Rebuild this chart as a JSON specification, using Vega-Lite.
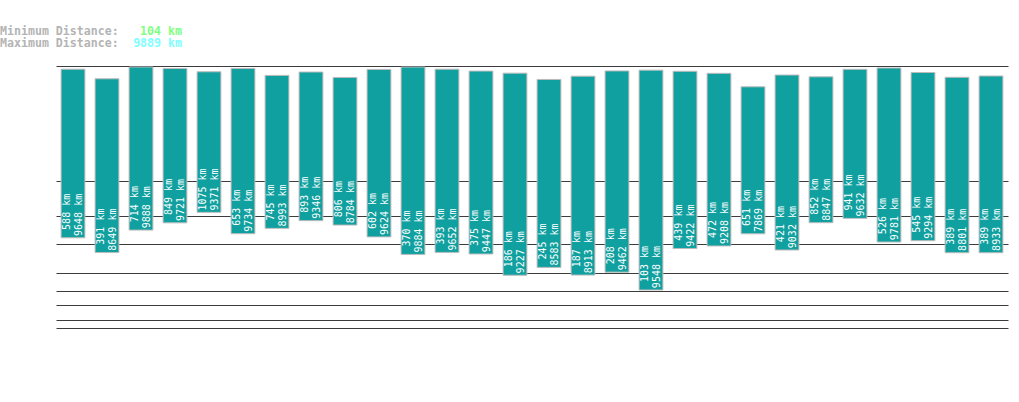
{
  "$schema": "https://vega.github.io/schema/vega-lite/v6.json",
  "background": "white",
  "padding": {"left": 0, "top": 26, "right": 5, "bottom": 5},
  "spacing": 16,
  "columns": 1,
  "config": {"view": {"stroke": null}},
  "datasets": {
    "header": [
      {"line": 1, "label": "Minimum Distance:", "value": "104 km", "kind": "min"},
      {"line": 2, "label": "Maximum Distance:", "value": "9889 km", "kind": "max"}
    ],
    "bars": [
      {"i": 1, "min": 588, "max": 9648},
      {"i": 2, "min": 391, "max": 8649},
      {"i": 3, "min": 714, "max": 9888},
      {"i": 4, "min": 849, "max": 9721},
      {"i": 5, "min": 1075, "max": 9371},
      {"i": 6, "min": 653, "max": 9734},
      {"i": 7, "min": 745, "max": 8993},
      {"i": 8, "min": 893, "max": 9346},
      {"i": 9, "min": 806, "max": 8784},
      {"i": 10, "min": 602, "max": 9624},
      {"i": 11, "min": 370, "max": 9884},
      {"i": 12, "min": 393, "max": 9652},
      {"i": 13, "min": 375, "max": 9447},
      {"i": 14, "min": 186, "max": 9227},
      {"i": 15, "min": 245, "max": 8583},
      {"i": 16, "min": 187, "max": 8913},
      {"i": 17, "min": 208, "max": 9462},
      {"i": 18, "min": 103, "max": 9548},
      {"i": 19, "min": 439, "max": 9422},
      {"i": 20, "min": 472, "max": 9208},
      {"i": 21, "min": 651, "max": 7869},
      {"i": 22, "min": 421, "max": 9032},
      {"i": 23, "min": 852, "max": 8847},
      {"i": 24, "min": 941, "max": 9632},
      {"i": 25, "min": 526, "max": 9781},
      {"i": 26, "min": 545, "max": 9294},
      {"i": 27, "min": 389, "max": 8801},
      {"i": 28, "min": 389, "max": 8933}
    ]
  },
  "concat": [
    {
      "data": {"name": "header"},
      "width": 126,
      "height": 12,
      "layer": [
        {
          "mark": {"type": "text", "align": "left", "baseline": "top", "font": "DejaVu Sans Mono", "fontSize": 11.6, "fontWeight": "bold", "color": "#b4b4b4"},
          "encoding": {
            "x": {"datum": 0, "type": "quantitative", "scale": {"domain": [0, 1], "range": [-56, 126]}, "axis": null},
            "y": {"field": "line", "type": "ordinal", "scale": {"type": "point", "padding": 0}, "axis": null},
            "text": {"field": "label"}
          }
        },
        {
          "mark": {"type": "text", "align": "right", "baseline": "top", "font": "DejaVu Sans Mono", "fontSize": 11.6, "fontWeight": "bold"},
          "encoding": {
            "x": {"datum": 1, "type": "quantitative", "scale": {"domain": [0, 1], "range": [-56, 126]}, "axis": null},
            "y": {"field": "line", "type": "ordinal", "scale": {"type": "point", "padding": 0}, "axis": null},
            "text": {"field": "value"},
            "color": {"field": "kind", "type": "nominal", "scale": {"domain": ["min", "max"], "range": ["#80ff80", "#80ffff"]}, "legend": null}
          }
        }
      ]
    },
    {
      "data": {"name": "bars"},
      "width": 952,
      "height": 300,
      "encoding": {
        "x": {"field": "i", "type": "ordinal", "scale": {"paddingInner": 0.3, "paddingOuter": 0.15}, "axis": null}
      },
      "layer": [
        {
          "mark": {"type": "bar", "fill": "#11a0a0", "stroke": "#bcbcbc", "strokeWidth": 1},
          "encoding": {
            "y": {"field": "max", "type": "quantitative",
              "scale": {"type": "pow", "exponent": 0.3, "domain": [0, 10000], "nice": false},
              "axis": {"values": [10, 20, 50, 100, 200, 500, 1000, 2000, 10000], "tickCount": 50, "labels": false, "ticks": false, "domain": false, "title": null, "grid": true, "gridColor": "#3c3c3c", "gridOpacity": 1, "minExtent": 56, "maxExtent": 56}},
            "y2": {"field": "min"}
          }
        },
        {
          "mark": {"type": "text", "angle": 270, "align": "right", "baseline": "middle", "dx": 44, "dy": -5.75, "font": "DejaVu Sans Mono", "fontSize": 10, "lineHeight": 11.5, "fill": "white",
            "text": {"expr": "[datum.min + ' km', datum.max + ' km']"}},
          "encoding": {
            "y": {"field": "min", "type": "quantitative"}
          }
        }
      ]
    }
  ]
}
